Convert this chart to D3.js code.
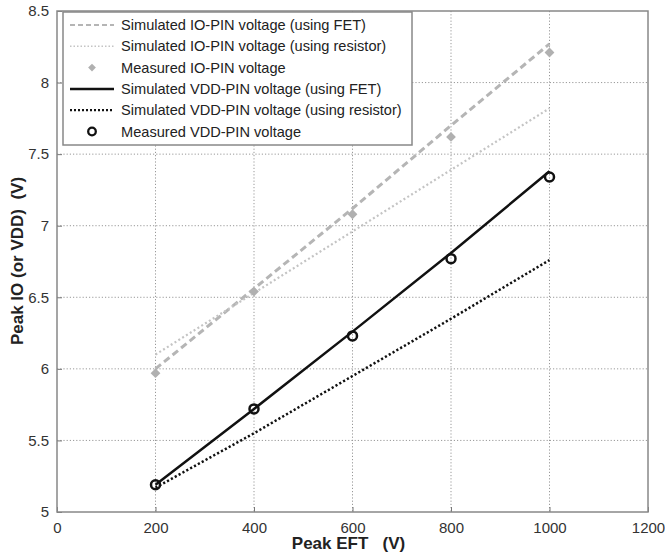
<!DOCTYPE html>
<html>
<head>
<meta charset="utf-8">
<script src="https://cdn.jsdelivr.net/npm/d3@7"></script>
<style>
  body { margin: 0; background: #fff; }
  text { font-family: "Liberation Sans", Arial, sans-serif; }
</style>
</head>
<body>
<svg width="665" height="558"></svg>
<script>
const svg = d3.select("svg");
const margin = { top: 11, right: 17, bottom: 46, left: 57 };
const width = +svg.attr("width");
const height = +svg.attr("height");
const innerWidth = width - margin.left - margin.right;
const innerHeight = height - margin.top - margin.bottom;

// data
const eft = [200, 400, 600, 800, 1000];
const ioFet = [6.0, 6.56, 7.12, 7.70, 8.27];
const ioRes = [6.10, 6.53, 6.96, 7.39, 7.82];
const ioMeas = [5.97, 6.54, 7.08, 7.62, 8.21];
const vddFet = [5.19, 5.72, 6.26, 6.81, 7.38];
const vddRes = [5.17, 5.55, 5.95, 6.35, 6.76];
const vddMeas = [5.19, 5.72, 6.23, 6.77, 7.34];
const xTicks = [0, 200, 400, 600, 800, 1000, 1200];
const yTicks = [5, 5.5, 6, 6.5, 7, 7.5, 8, 8.5];

const legendLabels = [
  "Simulated IO-PIN voltage (using FET)",
  "Simulated IO-PIN voltage (using resistor)",
  "Measured IO-PIN voltage",
  "Simulated VDD-PIN voltage (using FET)",
  "Simulated VDD-PIN voltage (using resistor)",
  "Measured VDD-PIN voltage"
];

const x = d3.scaleLinear().domain([0, 1200]).range([0, innerWidth]);
const y = d3.scaleLinear().domain([5, 8.5]).range([innerHeight, 0]);

const g = svg.append("g").attr("transform", `translate(${margin.left},${margin.top})`);

// grid
g.append("g").selectAll("line.gx")
  .data(xTicks.slice(1, -1))
  .enter().append("line")
  .attr("x1", d => x(d)).attr("x2", d => x(d))
  .attr("y1", 0).attr("y2", innerHeight)
  .attr("stroke", "#999").attr("stroke-width", 1).attr("stroke-dasharray", "1.2,2");
g.append("g").selectAll("line.gy")
  .data(yTicks.slice(1, -1))
  .enter().append("line")
  .attr("y1", d => y(d)).attr("y2", d => y(d))
  .attr("x1", 0).attr("x2", innerWidth)
  .attr("stroke", "#999").attr("stroke-width", 1).attr("stroke-dasharray", "1.2,2");

// axes
const xAxis = g.append("g")
  .attr("transform", `translate(0,${innerHeight})`)
  .call(d3.axisBottom(x).tickValues(xTicks).tickSize(-5).tickPadding(10).tickFormat(d3.format("d")));
const yAxis = g.append("g")
  .call(d3.axisLeft(y).tickValues(yTicks).tickSize(-5).tickPadding(8).tickFormat(d => d));
[xAxis, yAxis].forEach(a => {
  a.select(".domain").remove();
  a.selectAll("line").attr("stroke", "#777");
  a.selectAll("text").attr("font-size", 15).attr("fill", "#333")
    .style("font-family", "'Liberation Sans', Arial, sans-serif");
});

// box
g.append("rect")
  .attr("x", 0).attr("y", 0)
  .attr("width", innerWidth).attr("height", innerHeight)
  .attr("fill", "none").attr("stroke", "#888").attr("stroke-width", 1.5);

const line = d3.line().x((d, i) => x(eft[i])).y(d => y(d));

const styles = [
  { data: ioFet, stroke: "#b5b5b5", width: 3, dash: "7,4" },
  { data: ioRes, stroke: "#c4c4c4", width: 2.2, dash: "2,2.5" },
  { data: vddFet, stroke: "#111", width: 2.5, dash: null },
  { data: vddRes, stroke: "#111", width: 2.5, dash: "2.2,2.2" }
];
styles.forEach(s => {
  g.append("path")
    .datum(s.data)
    .attr("fill", "none")
    .attr("stroke", s.stroke)
    .attr("stroke-width", s.width)
    .attr("stroke-dasharray", s.dash)
    .attr("d", line);
});

// measured IO points: square turned 45deg
const diamond = d3.symbol().type(d3.symbolSquare).size(48);
g.selectAll("path.io")
  .data(ioMeas)
  .enter().append("path")
  .attr("class", "io")
  .attr("transform", (d, i) => `translate(${x(eft[i])},${y(d)}) rotate(45)`)
  .attr("d", diamond)
  .attr("fill", "#b0b0b0");

g.selectAll("circle.vdd")
  .data(vddMeas)
  .enter().append("circle")
  .attr("class", "vdd")
  .attr("cx", (d, i) => x(eft[i]))
  .attr("cy", d => y(d))
  .attr("r", 4.5)
  .attr("fill", "none")
  .attr("stroke", "#111")
  .attr("stroke-width", 2.5);

// legend
const lg = svg.append("g").attr("transform", "translate(63,12)");
lg.append("rect")
  .attr("width", 349).attr("height", 133)
  .attr("fill", "#fff").attr("stroke", "#888").attr("stroke-width", 1.5);
const rowY = i => 13 + i * 21.3;
const legendMarks = [
  { kind: "line", stroke: "#b5b5b5", width: 2, dash: "5,3" },
  { kind: "line", stroke: "#c4c4c4", width: 1.5, dash: "1.5,2" },
  { kind: "diamond" },
  { kind: "line", stroke: "#111", width: 2.5, dash: null },
  { kind: "line", stroke: "#111", width: 2.2, dash: "2,2" },
  { kind: "circle" }
];
legendMarks.forEach((m, i) => {
  const yy = rowY(i);
  if (m.kind === "line") {
    lg.append("line")
      .attr("x1", 7).attr("x2", 51).attr("y1", yy).attr("y2", yy)
      .attr("stroke", m.stroke).attr("stroke-width", m.width)
      .attr("stroke-dasharray", m.dash);
  } else if (m.kind === "diamond") {
    lg.append("path")
      .attr("transform", `translate(29,${yy}) rotate(45)`)
      .attr("d", d3.symbol().type(d3.symbolSquare).size(30))
      .attr("fill", "#b0b0b0");
  } else {
    lg.append("circle")
      .attr("cx", 29).attr("cy", yy).attr("r", 3.8)
      .attr("fill", "none").attr("stroke", "#111").attr("stroke-width", 2.3);
  }
  lg.append("text")
    .attr("x", 58).attr("y", yy)
    .attr("dy", "0.35em")
    .attr("font-size", 14.6)
    .attr("fill", "#222")
    .text(legendLabels[i]);
});

// axis titles
svg.append("text")
  .attr("x", margin.left + x(600) - 4)
  .attr("y", 549)
  .attr("text-anchor", "middle")
  .attr("font-size", 17)
  .attr("font-weight", "bold")
  .attr("fill", "#222")
  .attr("xml:space", "preserve")
  .text("Peak EFT   (V)");

svg.append("text")
  .attr("transform", `translate(23,261) rotate(-90)`)
  .attr("text-anchor", "middle")
  .attr("font-size", 17)
  .attr("font-weight", "bold")
  .attr("fill", "#222")
  .attr("xml:space", "preserve")
  .text("Peak IO (or VDD)  (V)");
</script>
</body>
</html>
